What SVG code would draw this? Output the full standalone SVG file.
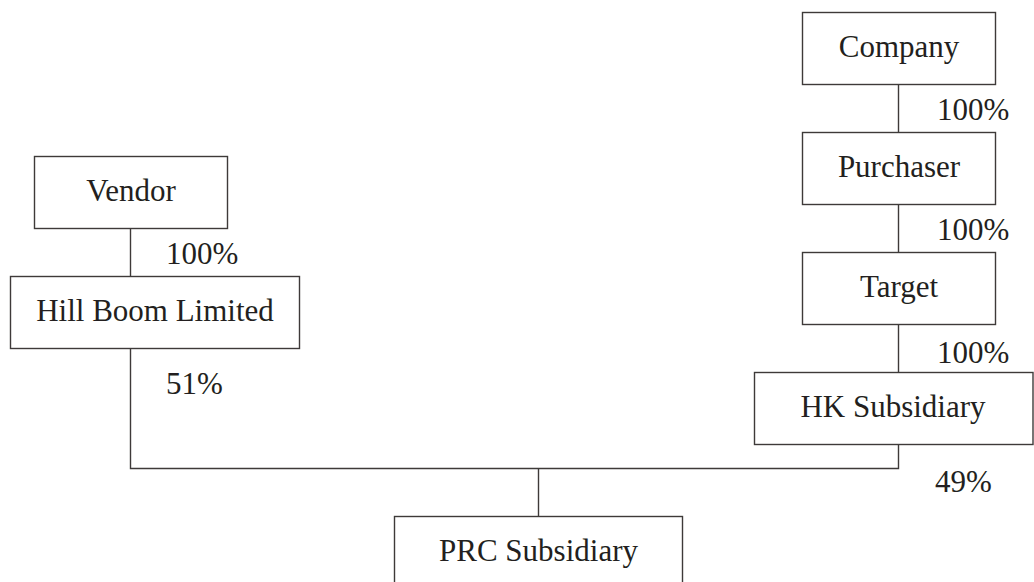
<svg xmlns="http://www.w3.org/2000/svg" width="1034" height="582" viewBox="0 0 1034 582">
<style>
.box{fill:#fff;stroke:#3e3a39;stroke-width:1.4}
.ln{fill:none;stroke:#3e3a39;stroke-width:1.4}
.t{font-size:31px;fill:#231f20}
.c{text-anchor:middle}
</style>
<rect width="1034" height="582" fill="#fff"/>
<g id="connectors" font-family="'Liberation Serif', 'Times New Roman', 'DejaVu Serif', serif">
<path class="ln" d="M130.5 228.5V276.5"/>
<path class="ln" d="M130.5 348.5V468.5H898.5V444.5"/>
<path class="ln" d="M538.5 468.5V516.5"/>
<path class="ln" d="M898.5 84.5V132.5"/>
<path class="ln" d="M898.5 204.5V252.5"/>
<path class="ln" d="M898.5 324.5V372.5"/>
<text class="t" x="166" y="264">100%</text>
<text class="t" x="166" y="394">51%</text>
<text class="t" x="937" y="119.5">100%</text>
<text class="t" x="937" y="239.5">100%</text>
<text class="t" x="937" y="363">100%</text>
<text class="t" x="935" y="491.5">49%</text>
</g>
<g font-family="'Liberation Serif', 'Times New Roman', 'DejaVu Serif', serif">
<g id="company"><rect class="box" x="802.5" y="12.5" width="193" height="72"/><text class="t c" x="899" y="57">Company</text></g>
<g id="purchaser"><rect class="box" x="802.5" y="132.5" width="193" height="72"/><text class="t c" x="899" y="177">Purchaser</text></g>
<g id="target"><rect class="box" x="802.5" y="252.5" width="193" height="72"/><text class="t c" x="899" y="297">Target</text></g>
<g id="hk"><rect class="box" x="754.5" y="372.5" width="278.5" height="72"/><text class="t c" x="893" y="417">HK Subsidiary</text></g>
<g id="vendor"><rect class="box" x="34.5" y="156.5" width="193" height="72"/><text class="t c" x="131" y="201">Vendor</text></g>
<g id="hillboom"><rect class="box" x="10.5" y="276.5" width="289" height="72"/><text class="t c" x="155" y="321">Hill Boom Limited</text></g>
<g id="prc"><rect class="box" x="394.5" y="516.5" width="288" height="72"/><text class="t c" x="538.5" y="561">PRC Subsidiary</text></g>
</g>
</svg>
